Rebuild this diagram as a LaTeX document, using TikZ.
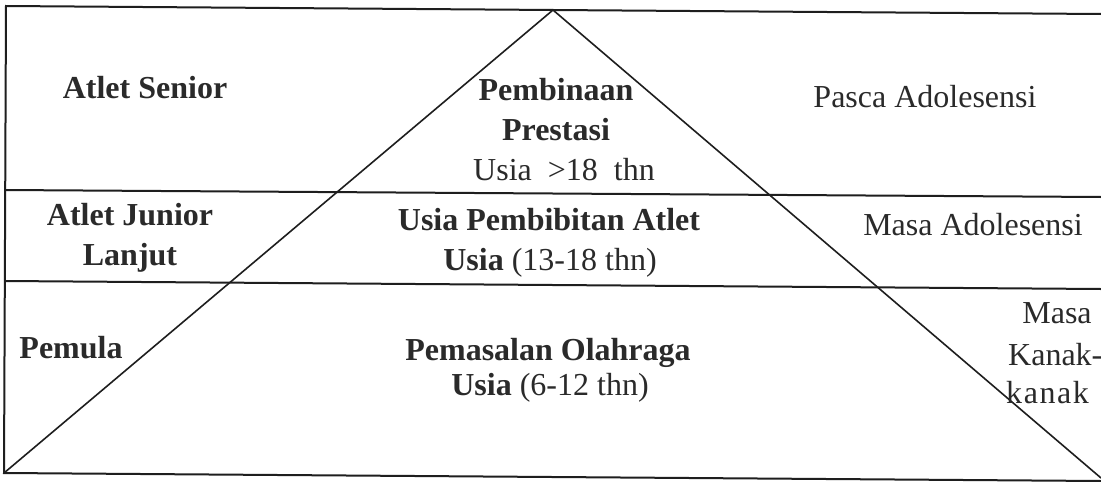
\documentclass[tikz,border=0pt]{standalone}
\usepackage{fontspec}
\setmainfont{Liberation Serif}
\definecolor{ink}{HTML}{1E1E1E}
\definecolor{txt}{HTML}{2A2A2A}
\begin{document}
\begin{tikzpicture}[x=1pt,y=-1pt,
  frame/.style={draw=ink,line width=2pt},
  tri/.style={draw=ink,line width=1.6pt},
  lbl/.style={inner sep=0pt,anchor=base,text=txt,font=\fontsize{32}{40}\selectfont},
  blbl/.style={lbl,font=\fontsize{32}{40}\selectfont\bfseries}]
\useasboundingbox (0,0) rectangle (1101,482);
\fill[white] (0,0) rectangle (1101,482);
\clip (0,0) rectangle (1101,482);

% table frame and row separators
\coordinate (tl) at (6,6);
\coordinate (tr) at (1101,14);
\coordinate (bl) at (4,473);
\coordinate (br) at (1101,481);
\coordinate (r1l) at (5,190);
\coordinate (r1r) at (1101,197);
\coordinate (r2l) at (5,281);
\coordinate (r2r) at (1101,289);
\draw[frame] (tr) -- (tl) -- (bl) -- (br);
\draw[frame] (r1l) -- (r1r);
\draw[frame] (r2l) -- (r2r);

% pyramid
\coordinate (apex) at (553,10);
\coordinate (baseR) at (1101,478);
\draw[tri] (bl) -- (apex) -- (baseR);

% left column
\node[blbl] (senior) at (145,98) {Atlet Senior};
\node[blbl] (junior1) at (130,225) {Atlet Junior};
\node[blbl] (junior2) at (130,265) {Lanjut};
\node[blbl] (pemula) at (71,358) {Pemula};

% pyramid levels
\node[blbl] (prest1) at (556,100) {Pembinaan};
\node[blbl] (prest2) at (556,140) {Prestasi};
\node[lbl]  (prest3) at (564,180) {Usia \ {>}18 \ thn};
\node[blbl] (bibit1) at (549,230) {Usia Pembibitan Atlet};
\node[lbl]  (bibit2) at (550,270) {\textbf{Usia} (13-18 thn)};
\node[blbl] (massal1) at (548,360) {Pemasalan Olahraga};
\node[lbl]  (massal2) at (550,395) {\textbf{Usia} (6-12 thn)};

% right column
\node[lbl] (pasca) at (925,107) {Pasca Adolesensi};
\node[lbl] (adol) at (973,235) {Masa Adolesensi};
\node[lbl] (kanak1) at (1057,323) {Masa};
\node[lbl,anchor=base west] (kanak2) at (1008,365) {Kanak-};
\node[lbl,anchor=base west] (kanak3) at (1006,403) {\addfontfeatures{LetterSpace=5}kanak};
\end{tikzpicture}
\end{document}
